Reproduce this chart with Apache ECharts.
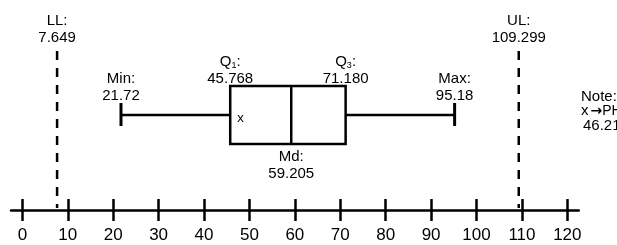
<!DOCTYPE html>
<html>
<head>
<meta charset="utf-8">
<script src="https://cdn.jsdelivr.net/npm/echarts@6/dist/echarts.min.js"></script>
<style>
  html, body { margin: 0; padding: 0; background: #fff; }
  #main { width: 617px; height: 245px; }
</style>
</head>
<body>
<div id="main"></div>
<script>
// five-number summary plus the fences (LL / UL)
const statNames = ['LL', 'Min', 'Q1', 'Md', 'Q3', 'Max', 'UL'];
const statValues = [7.649, 21.72, 45.768, 59.205, 71.180, 95.18, 109.299];
const statLabels = ['7.649', '21.72', '45.768', '59.205', '71.180', '95.18', '109.299'];
const phValue = 46.21;
const tickValues = [0, 10, 20, 30, 40, 50, 60, 70, 80, 90, 100, 110, 120];

const FONT = '"Liberation Sans", Arial, sans-serif';

function label(x, y, head, value) {
    // "Q1" / "Q3" get a subscript digit
    let first = head + ':';
    const m = head.match(/^Q(\d)$/);
    if (m) first = '{q|Q}{s|' + m[1] + '}{q|:}';
    else first = '{q|' + first + '}';
    return {
        type: 'text',
        x: x,
        y: y,
        style: {
            text: first + '\n{q|' + value + '}',
            textAlign: 'center',
            textVerticalAlign: 'middle',
            fill: '#000',
            rich: {
                q: { fontSize: 15, fontFamily: FONT, lineHeight: 17, color: '#000' },
                s: { fontSize: 9, fontFamily: FONT, lineHeight: 11, verticalAlign: 'bottom', color: '#000' }
            }
        }
    };
}

function renderBox(params, api) {
    const px = v => api.coord([v, 0])[0];
    const ll = px(api.value(0)), mn = px(api.value(1)), q1 = px(api.value(2)),
          md = px(api.value(3)), q3 = px(api.value(4)), mx = px(api.value(5)),
          ul = px(api.value(6)), ph = px(api.value(7));
    const stroke = { stroke: '#000', lineWidth: 2.5, fill: 'none' };
    const kids = [];
    [ll, ul].forEach(x => kids.push({
        type: 'line', shape: { x1: x, y1: 51, x2: x, y2: 208 },
        style: { stroke: '#000', lineWidth: 2.5, lineDash: [9, 8] }
    }));
    kids.push({ type: 'rect', shape: { x: q1, y: 86, width: q3 - q1, height: 58 }, style: stroke });
    kids.push({ type: 'line', shape: { x1: md, y1: 86, x2: md, y2: 144 }, style: stroke });
    kids.push({ type: 'line', shape: { x1: mn, y1: 115, x2: q1, y2: 115 }, style: stroke });
    kids.push({ type: 'line', shape: { x1: q3, y1: 115, x2: mx, y2: 115 }, style: stroke });
    kids.push({ type: 'line', shape: { x1: mn, y1: 103, x2: mn, y2: 126 }, style: { stroke: '#000', lineWidth: 3 } });
    kids.push({ type: 'line', shape: { x1: mx, y1: 103, x2: mx, y2: 126 }, style: { stroke: '#000', lineWidth: 3 } });
    kids.push({
        type: 'text', x: ph + 5, y: 118,
        style: { text: 'x', font: '13px ' + FONT, fill: '#000', textAlign: 'left', textVerticalAlign: 'middle' }
    });
    kids.push(label(ll, 29, statNames[0], statLabels[0]));
    kids.push(label(mn, 87, statNames[1], statLabels[1]));
    kids.push(label(q1, 70, statNames[2], statLabels[2]));
    kids.push(label(md, 165.5, statNames[3], statLabels[3]));
    kids.push(label(q3, 70, statNames[4], statLabels[4]));
    kids.push(label(mx, 87, statNames[5], statLabels[5]));
    kids.push(label(ul, 29, statNames[6], statLabels[6]));
    return { type: 'group', children: kids };
}

function drawChart() {
    var chartDom = document.getElementById('main');
    var myChart = echarts.init(chartDom);
    var option = {
        animation: false,
        backgroundColor: '#fff',
        grid: { left: 11, right: 38.3, top: 0, bottom: 35 },
        xAxis: [
            {
                type: 'value', min: -2.5, max: 122.5,
                splitLine: { show: false },
                axisLine: { show: true, lineStyle: { color: '#000', width: 2.5 } },
                axisTick: { show: true, customValues: tickValues, length: 11, lineStyle: { color: '#000', width: 2.5 } },
                axisLabel: { customValues: tickValues, margin: 17, color: '#000', fontSize: 17, fontFamily: FONT }
            },
            {
                type: 'value', min: -2.5, max: 122.5, position: 'bottom',
                splitLine: { show: false },
                axisLine: { show: false },
                axisTick: { show: true, inside: true, customValues: tickValues, length: 11, lineStyle: { color: '#000', width: 2.5 } },
                axisLabel: { show: false }
            }
        ],
        yAxis: { type: 'value', min: 0, max: 1, show: false },
        series: [
            {
                type: 'custom',
                xAxisIndex: 0,
                clip: false,
                renderItem: renderBox,
                data: [statValues.concat([phValue])]
            }
        ],
        graphic: [
            {
                type: 'text', left: 581, top: 89,
                style: {
                    text: '{t|Note:}\n{t|x}{a|\u2192}{p|PH}\n{n|' + phValue.toFixed(2) + '}',
                    fill: '#000',
                    rich: {
                        t: { fontSize: 15, fontFamily: FONT, lineHeight: 14.5, color: '#000' },
                        p: { fontSize: 14, fontFamily: FONT, lineHeight: 14.5, color: '#000' },
                        n: { fontSize: 15, fontFamily: FONT, lineHeight: 14.5, color: '#000', padding: [0, 0, 0, 2] },
                        a: { fontSize: 14, fontFamily: '"DejaVu Sans"', fontWeight: 'bold', lineHeight: 14.5, color: '#000', padding: [0, 0, 0, 2] }
                    }
                }
            }
        ]
    };
    myChart.setOption(option);
}
drawChart();
</script>
</body>
</html>
